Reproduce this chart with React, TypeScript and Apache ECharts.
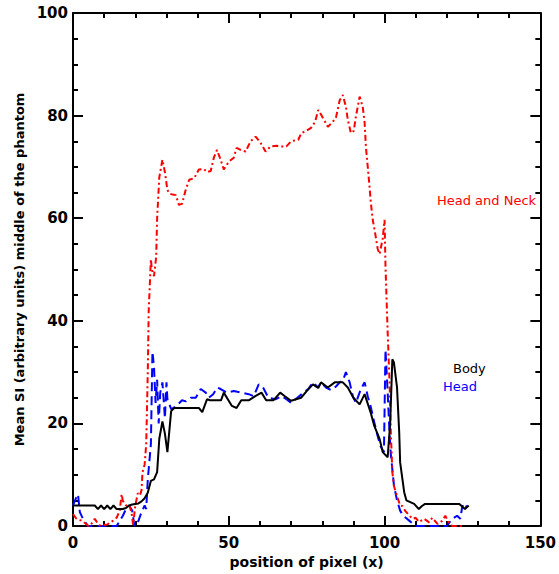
import React, { useEffect, useRef } from "react";
import * as echarts from "echarts";

// Head and Neck (red, dash-dot)
const headNeckX = [0, 1, 2, 3, 4, 5, 6, 7, 8, 9, 10, 11, 12, 13, 14, 15, 15.6, 16, 17, 18, 18.8, 19.3, 20, 20.8, 21.5, 22, 22.3, 23, 23.5, 24, 24.3, 25, 25.3, 26, 26.7, 27, 27.7, 28.7, 29.5, 30.3, 31, 32, 33, 34, 35, 36.2, 37.3, 38.9, 40.4, 42, 43, 44.2, 45.2, 46.2, 47.4, 48.4, 50, 51.6, 52.5, 53.8, 55.4, 57, 58.6, 60.2, 61.8, 63.4, 65.3, 67, 68.5, 70, 72.3, 73.3, 74.8, 76.4, 77.7, 78.7, 79.6, 80.9, 81.8, 83.4, 84.4, 85.6, 86.6, 87.6, 88.2, 89.2, 90.1, 90.8, 92, 93, 93.6, 94, 94.6, 95.2, 95.5, 96.2, 97, 97.8, 98.4, 99.4, 100, 100.3, 101, 101.6, 102, 102.5, 103, 104, 105, 105.7, 106.7, 108, 109, 110, 111, 112.7, 114.3, 115.3, 117, 118.5, 119.5, 120.7, 121.7, 125.5];
const headNeckY = [2.3, 1.5, 1.2, 1, 0.5, 0, 0.5, 1.4, 0.4, 0, 0.2, 0.3, 0.7, 1.1, 1.6, 3, 6.2, 4.9, 4, 4.2, 2.6, 0.2, 4, 6.4, 6, 7, 10.5, 12, 16, 30, 42, 52, 50, 48.7, 52.5, 60, 68, 71.4, 69, 65.5, 64.8, 64.6, 64.5, 62.6, 62.8, 65.6, 67.5, 67.8, 69.5, 69.6, 69, 69.2, 71.8, 73.3, 71.4, 69.5, 71, 71.8, 73.7, 73.3, 73, 75, 75.9, 74.7, 73, 74, 74.1, 74, 74, 75, 75.3, 76.6, 77, 77.6, 78.8, 81.1, 80.2, 78.8, 77.8, 78.8, 79.6, 83, 84, 81.7, 79.2, 76.6, 77, 79.8, 83.7, 81.7, 78.6, 74, 70, 66, 63.6, 59.7, 57, 54, 53, 56, 59.7, 50.6, 37.7, 28, 18.3, 10.5, 7.8, 5.8, 4, 3.9, 2.9, 2, 1.4, 1.6, 0.8, 1.4, 0.7, 1.6, 0.4, 1, 2, 0.5, 0, 0];

// Head (blue, dashed)
const headX = [0, 1, 1.6, 2.2, 3.2, 4.8, 14, 15, 16, 17, 18, 19, 19.7, 21, 22, 23, 23.5, 24, 25, 25.5, 26, 26.5, 27, 27.5, 28, 28.7, 29.5, 30, 30.3, 31.5, 33, 35, 36.2, 37.8, 39.4, 41, 42.6, 43.6, 45, 46.3, 47.4, 49.4, 51.6, 54, 56.4, 58, 59.6, 61, 62.7, 65, 67, 68.5, 70, 72, 74, 75.5, 77, 78.7, 79.6, 81.2, 82.8, 84.4, 85.6, 86.6, 87.6, 88.8, 89.8, 90.8, 92.4, 93.6, 94.6, 95.5, 96.7, 97.8, 98.7, 99.8, 100.3, 101, 101.6, 102, 103, 104, 105, 106, 107, 108, 109, 110.5, 120, 121.7, 123.3, 124.3, 125, 125.8, 126.4];
const headY = [4, 5.5, 6.2, 2.7, 1.4, 0, 0, 1, 2, 3.3, 4, 3, 0, 1, 2.7, 4, 3.3, 9, 16, 34, 31, 24, 28.5, 20, 26, 28, 21, 28, 24.7, 22.8, 23.3, 24.5, 24.3, 25, 25, 26.7, 26, 25, 25.7, 27, 26.7, 26, 26.3, 26, 25.7, 25.3, 27.6, 27, 25, 24.7, 25.3, 24.7, 24, 25, 26, 26.7, 28, 27, 28, 27, 26.5, 27.2, 28, 28.3, 30, 28, 25.3, 24, 26.7, 28, 25.3, 23.4, 20.2, 17.5, 15.6, 14.4, 34.4, 26, 18, 14, 8, 5, 3, 2, 1.5, 1, 0.5, 0, 0, 1.4, 2, 1.4, 4, 3.3, 4];

// Body (black, solid)
const bodyX = [0, 7, 8, 9, 10, 11, 12, 13, 14, 15, 16, 17, 18, 19, 20, 21, 22, 23, 24, 25, 26, 27, 27.7, 28.7, 29.5, 30.3, 31.5, 32.5, 35, 40.4, 41.5, 43, 44, 47.5, 48.4, 51, 52.5, 54, 56.4, 58.5, 60.5, 62, 64.3, 66.5, 68, 70, 73.2, 75, 77, 78.7, 79.6, 81.8, 84, 86.6, 88.2, 90, 92, 93.6, 95.5, 96.7, 98.4, 99.4, 101, 101.8, 102.5, 103, 104, 104.7, 105, 106.3, 107, 109.5, 111, 112, 113, 124, 125.8, 127];
const bodyY = [4, 4, 3.3, 4, 3.3, 4, 3.3, 4, 3.3, 3.3, 3.3, 3.5, 4, 4.2, 4.3, 4.4, 4.8, 5.4, 6.5, 8.8, 9.1, 10.5, 17, 20.4, 18, 14.4, 22.4, 23, 23, 23, 22.2, 24.7, 24.5, 24.5, 26, 23.4, 23, 24.5, 24.5, 25.3, 26, 24.5, 24.5, 26, 25.3, 24.4, 25, 26.3, 27.6, 26.9, 28, 27, 28, 28, 27, 25, 23.7, 25.7, 22.2, 19.5, 17, 14.4, 13.4, 20, 32.5, 31.9, 27, 18.3, 12.4, 6.6, 5, 4.3, 3.3, 3.9, 4.3, 4.3, 3.3, 4];

const xTicks = [0, 50, 100, 150];
const yTicks = [0, 20, 40, 60, 80, 100];

const labelNames = ["Head and Neck", "Body", "Head"];

const pairs = (xs: number[], ys: number[]) => xs.map((x, i) => [x, ys[i]]);

export default function App() {
  const ref = useRef<HTMLDivElement>(null);
  useEffect(() => {
    if (!ref.current) return;
    const chart = echarts.init(ref.current, null, { renderer: "svg" });
    const axisFont = { fontFamily: "DejaVu Sans", fontWeight: "bold" as const, fontSize: 15, color: "#000" };
    const baseX = {
      type: "value" as const,
      min: xTicks[0],
      max: xTicks[xTicks.length - 1],
      interval: 50,
      axisLine: { show: true, onZero: false, lineStyle: { color: "#000", width: 2 } },
      axisTick: { show: true, inside: true, length: 10, lineStyle: { color: "#000", width: 2 } },
      minorTick: { show: true, splitNumber: 5, length: 5, lineStyle: { color: "#000", width: 2 } },
      splitLine: { show: false },
    };
    const baseY = {
      type: "value" as const,
      min: yTicks[0],
      max: yTicks[yTicks.length - 1],
      interval: 20,
      axisLine: { show: true, onZero: false, lineStyle: { color: "#000", width: 2 } },
      axisTick: { show: true, inside: true, length: 10, lineStyle: { color: "#000", width: 2 } },
      minorTick: { show: true, splitNumber: 4, length: 5, lineStyle: { color: "#000", width: 2 } },
      splitLine: { show: false },
    };
    chart.setOption({
      animation: false,
      backgroundColor: "#fff",
      grid: { left: 73, right: 15, top: 13, bottom: 47, containLabel: false },
      xAxis: [
        {
          ...baseX,
          position: "bottom",
          name: "position of pixel (x)",
          nameLocation: "middle",
          nameGap: 29,
          nameTextStyle: { ...axisFont, fontSize: 14 },
          axisLabel: { ...axisFont, margin: 9 },
        },
        { ...baseX, position: "top", axisLabel: { show: false } },
      ],
      yAxis: [
        {
          ...baseY,
          position: "left",
          name: "Mean SI (arbitrary units) middle of the phantom",
          nameLocation: "middle",
          nameGap: 47,
          nameTextStyle: { ...axisFont, fontSize: 13 },
          axisLabel: { ...axisFont, margin: 5 },
        },
        { ...baseY, position: "right", axisLabel: { show: false } },
      ],
      series: [
        {
          type: "line",
          name: labelNames[0],
          data: pairs(headNeckX, headNeckY),
          showSymbol: false,
          lineStyle: { color: "#ff0000", width: 2, type: [6, 3, 2, 3] },
          z: 3,
        },
        {
          type: "line",
          name: labelNames[2],
          data: pairs(headX, headY),
          showSymbol: false,
          lineStyle: { color: "#0000ff", width: 2, type: [9, 5] },
          z: 2,
        },
        {
          type: "line",
          name: labelNames[1],
          data: pairs(bodyX, bodyY),
          showSymbol: false,
          lineStyle: { color: "#000", width: 2 },
          z: 4,
        },
      ],
      graphic: [
        {
          type: "text",
          left: 437,
          top: 194,
          style: { text: labelNames[0], fill: "#ff0000", font: "13px 'DejaVu Sans'" },
        },
        {
          type: "text",
          left: 453,
          top: 362,
          style: { text: labelNames[1], fill: "#000", font: "13px 'DejaVu Sans'" },
        },
        {
          type: "text",
          left: 443,
          top: 380,
          style: { text: labelNames[2], fill: "#0000ff", font: "13px 'DejaVu Sans'" },
        },
      ],
    });
    return () => chart.dispose();
  }, []);
  return <div ref={ref} style={{ position: "fixed", left: 0, top: 0, width: 559, height: 574 }} />;
}
